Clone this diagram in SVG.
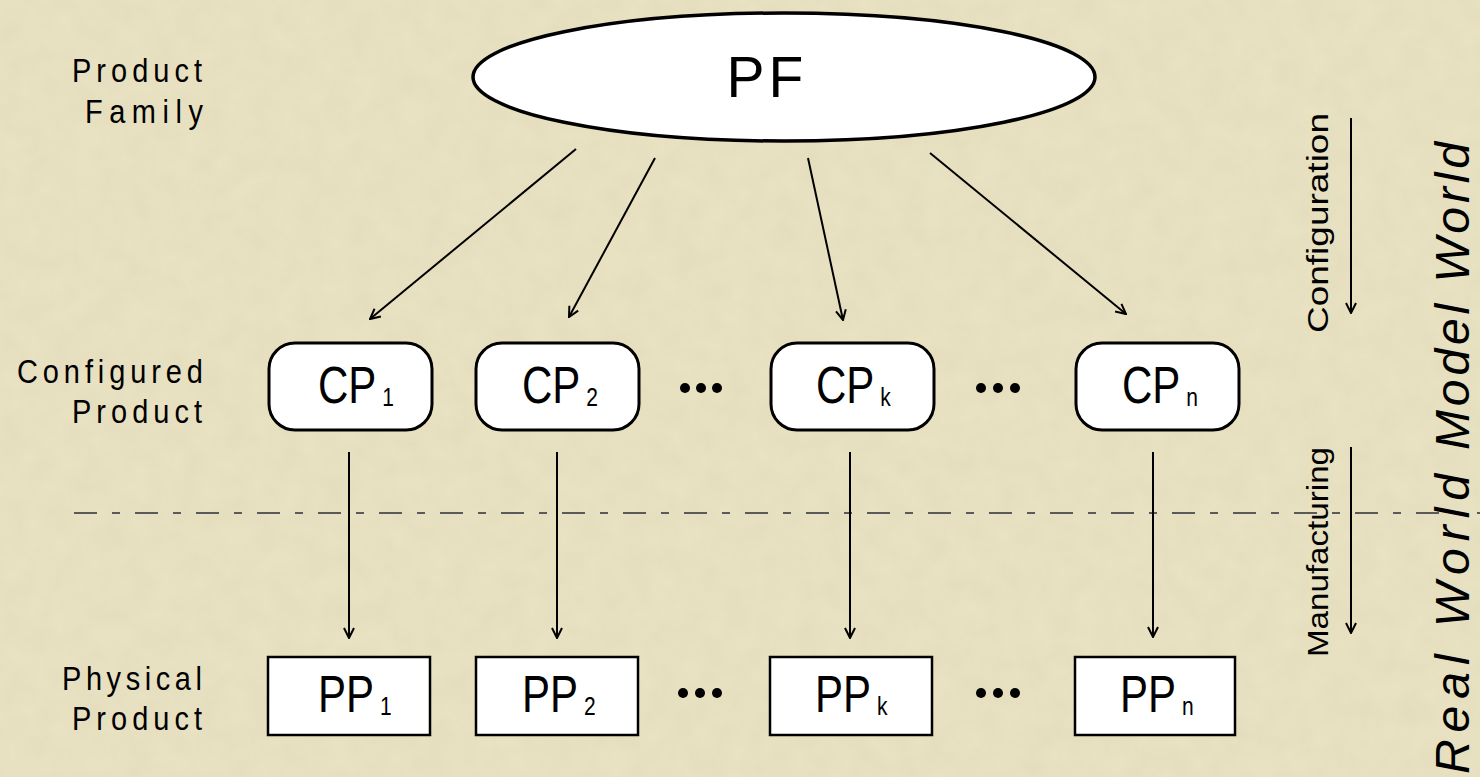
<svg xmlns="http://www.w3.org/2000/svg" width="1480" height="777" viewBox="0 0 1480 777">
<defs>
<marker id="ah" viewBox="0 0 12 12" refX="11" refY="6" markerWidth="12" markerHeight="12" markerUnits="userSpaceOnUse" orient="auto">
<path d="M1,1 L11,6 L1,11" fill="none" stroke="#000" stroke-width="2"/>
</marker>
<filter id="tex" x="0" y="0" width="100%" height="100%">
<feTurbulence type="fractalNoise" baseFrequency="0.04" numOctaves="3" seed="3" result="n"/>
<feColorMatrix in="n" type="matrix" values="0 0 0 0 0.55  0 0 0 0 0.5  0 0 0 0 0.35  0 0 0 0.2 -0.05"/>
</filter>
</defs>
<style>
.lbl{font-family:"Liberation Sans",Arial,sans-serif;font-size:29px;fill:#000}
.nt{font-family:"Liberation Sans",Arial,sans-serif;fill:#000}
.cp{fill:#fff;stroke:#000;stroke-width:3}
.pp{fill:#fff;stroke:#000;stroke-width:2.5}
.con line{stroke:#000;stroke-width:2;marker-end:url(#ah)}
.dot{fill:#000}
.side{font-family:"Liberation Sans",Arial,sans-serif;font-size:30px;fill:#000}
.world{font-family:"Liberation Sans",Arial,sans-serif;font-style:italic;font-size:48px;fill:#000}
</style>
<rect width="1480" height="777" fill="#e9e2c2"/>
<rect width="1480" height="777" filter="url(#tex)"/>

<g id="labels">
<text class="lbl" transform="translate(72,82) scale(1,1.12)" textLength="130" lengthAdjust="spacing">Product</text>
<text class="lbl" transform="translate(85,123) scale(1,1.12)" textLength="118" lengthAdjust="spacing">Family</text>
<text class="lbl" transform="translate(17,383) scale(1,1.12)" textLength="186" lengthAdjust="spacing">Configured</text>
<text class="lbl" transform="translate(72,423) scale(1,1.12)" textLength="130" lengthAdjust="spacing">Product</text>
<text class="lbl" transform="translate(62,690) scale(1,1.12)" textLength="140" lengthAdjust="spacing">Physical</text>
<text class="lbl" transform="translate(72,730) scale(1,1.12)" textLength="130" lengthAdjust="spacing">Product</text>
</g>

<line x1="74" y1="513" x2="1480" y2="513" stroke="#5a5a5a" stroke-width="2" stroke-dasharray="23 15 8 15"/>

<g id="pf">
<ellipse cx="784" cy="77" rx="311" ry="64" fill="#fff" stroke="#000" stroke-width="3.5"/>
<text class="nt" font-size="57" text-anchor="middle" transform="translate(767,97)" letter-spacing="4">PF</text>
</g>

<g id="cp1"><rect class="cp" x="269" y="343" width="163" height="87" rx="26"/><text class="nt" font-size="42" transform="translate(318,403) scale(1,1.25)">CP<tspan font-size="21" dx="6" dy="2">1</tspan></text></g>
<g id="cp2"><rect class="cp" x="476" y="343" width="163" height="87" rx="26"/><text class="nt" font-size="42" transform="translate(522,403) scale(1,1.25)">CP<tspan font-size="21" dx="6" dy="2">2</tspan></text></g>
<g id="cpk"><rect class="cp" x="771" y="343" width="163" height="87" rx="26"/><text class="nt" font-size="42" transform="translate(816,403) scale(1,1.25)">CP<tspan font-size="21" dx="6" dy="2">k</tspan></text></g>
<g id="cpn"><rect class="cp" x="1076" y="343" width="163" height="87" rx="26"/><text class="nt" font-size="42" transform="translate(1122,403) scale(1,1.25)">CP<tspan font-size="21" dx="6" dy="2">n</tspan></text></g>

<g id="dots-cp1"><circle class="dot" cx="685" cy="388" r="5"/><circle class="dot" cx="701" cy="388" r="5"/><circle class="dot" cx="717" cy="388" r="5"/></g>
<g id="dots-cp2"><circle class="dot" cx="981" cy="388" r="5"/><circle class="dot" cx="998" cy="388" r="5"/><circle class="dot" cx="1015" cy="388" r="5"/></g>

<g id="pp1"><rect class="pp" x="268" y="657" width="162" height="78"/><text class="nt" font-size="42" transform="translate(318,712) scale(1,1.25)">PP<tspan font-size="21" dx="6" dy="2">1</tspan></text></g>
<g id="pp2"><rect class="pp" x="476" y="657" width="162" height="78"/><text class="nt" font-size="42" transform="translate(522,712) scale(1,1.25)">PP<tspan font-size="21" dx="6" dy="2">2</tspan></text></g>
<g id="ppk"><rect class="pp" x="770" y="657" width="162" height="78"/><text class="nt" font-size="42" transform="translate(815,712) scale(1,1.25)">PP<tspan font-size="21" dx="6" dy="2">k</tspan></text></g>
<g id="ppn"><rect class="pp" x="1075" y="657" width="160" height="78"/><text class="nt" font-size="42" transform="translate(1120,712) scale(1,1.25)">PP<tspan font-size="21" dx="6" dy="2">n</tspan></text></g>

<g id="dots-pp1"><circle class="dot" cx="683" cy="693" r="5"/><circle class="dot" cx="700" cy="693" r="5"/><circle class="dot" cx="717" cy="693" r="5"/></g>
<g id="dots-pp2"><circle class="dot" cx="981" cy="693" r="5"/><circle class="dot" cx="998" cy="693" r="5"/><circle class="dot" cx="1015" cy="693" r="5"/></g>

<g id="connectors" class="con">
<line x1="576" y1="149" x2="370" y2="319"/>
<line x1="655" y1="158" x2="569" y2="317"/>
<line x1="808" y1="158" x2="843" y2="320"/>
<line x1="930" y1="153" x2="1126" y2="314"/>
<line x1="349" y1="452" x2="349" y2="638"/>
<line x1="557" y1="452" x2="557" y2="638"/>
<line x1="850" y1="452" x2="850" y2="638"/>
<line x1="1153" y1="452" x2="1153" y2="637"/>
<line x1="1351" y1="118" x2="1351" y2="313"/>
<line x1="1351" y1="447" x2="1351" y2="633"/>
</g>

<g id="side-labels">
<text class="side" transform="translate(1328,333) rotate(-90)" textLength="220" lengthAdjust="spacingAndGlyphs">Configuration</text>
<text class="side" transform="translate(1328,657) rotate(-90)" textLength="210" lengthAdjust="spacingAndGlyphs">Manufacturing</text>
<text class="world" transform="translate(1469,450) rotate(-90)" textLength="308" lengthAdjust="spacing">Model World</text>
<text class="world" transform="translate(1469,774) rotate(-90)" textLength="300" lengthAdjust="spacing">Real World</text>
</g>
</svg>
